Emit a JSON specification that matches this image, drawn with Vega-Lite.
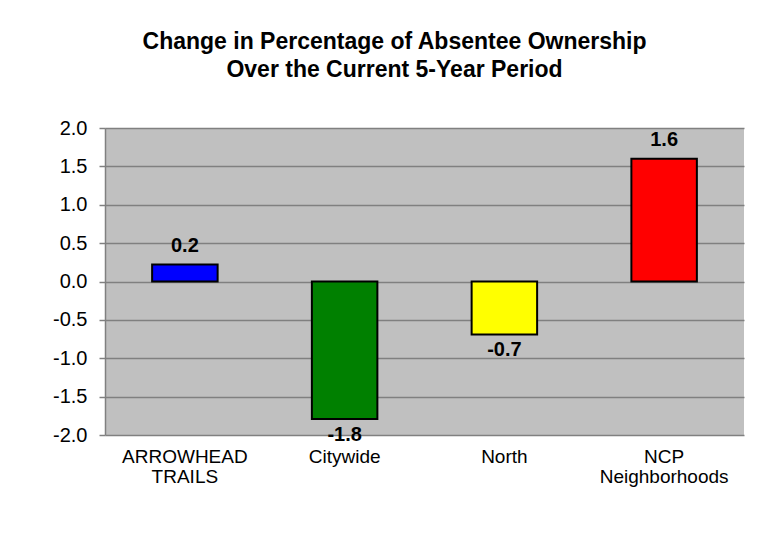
{
  "$schema": "https://vega.github.io/schema/vega-lite/v6.json",
  "autosize": "none",
  "width": 639,
  "height": 307,
  "padding": {"left": 105, "top": 128, "right": 28, "bottom": 124},
  "background": "white",
  "title": {
    "text": ["Change in Percentage of Absentee Ownership", "Over the Current 5-Year Period"],
    "font": "Liberation Sans",
    "fontSize": 23,
    "fontWeight": "bold",
    "color": "black",
    "anchor": "middle",
    "dx": -30,
    "offset": 36,
    "lineHeight": 28
  },
  "config": {
    "view": {"fill": "#C0C0C0", "stroke": null},
    "font": "Liberation Sans",
    "locale": {"number": {"decimal": ".", "thousands": ",", "grouping": [3], "currency": ["$", ""], "minus": "-"}}
  },
  "data": {
    "values": [
      {"area": "ARROWHEAD TRAILS", "change": 0.22},
      {"area": "Citywide", "change": -1.79},
      {"area": "North", "change": -0.69},
      {"area": "NCP Neighborhoods", "change": 1.6}
    ]
  },
  "encoding": {
    "x": {
      "field": "area",
      "type": "nominal",
      "sort": null,
      "scale": {"paddingInner": 0.59, "paddingOuter": 0.295},
      "axis": {
        "title": null,
        "labelAngle": 0,
        "labelFontSize": 19,
        "labelColor": "black",
        "labelPadding": 12,
        "labelLineHeight": 20,
        "labelExpr": "split(datum.label, ' ')",
        "ticks": false,
        "domain": false,
        "labelBaseline": "top"
      }
    },
    "y": {
      "field": "change",
      "type": "quantitative",
      "scale": {"domain": [-2, 2], "nice": false},
      "axis": {
        "title": null,
        "values": [-2, -1.5, -1, -0.5, 0, 0.5, 1, 1.5, 2],
        "format": ".1f",
        "labelFontSize": 20,
        "labelColor": "black",
        "labelPadding": 12,
        "tickSize": 6,
        "tickColor": "#808080",
        "tickWidth": 1.5,
        "domainColor": "#808080",
        "domainWidth": 1.5,
        "gridColor": "#808080",
        "gridWidth": 1.5,
        "gridOpacity": 1
      }
    }
  },
  "layer": [
    {
      "mark": {"type": "bar", "stroke": "black", "strokeWidth": 2},
      "encoding": {
        "color": {
          "field": "area",
          "type": "nominal",
          "sort": null,
          "scale": {
            "domain": ["ARROWHEAD TRAILS", "Citywide", "North", "NCP Neighborhoods"],
            "range": ["#0000FF", "#008000", "#FFFF00", "#FF0000"]
          },
          "legend": null
        }
      }
    },
    {
      "transform": [{"filter": "datum.change >= 0"}],
      "mark": {"type": "text", "fontSize": 20, "fontWeight": "bold", "baseline": "bottom", "dy": -9, "color": "black"},
      "encoding": {"text": {"field": "change", "type": "quantitative", "format": ".1f"}}
    },
    {
      "transform": [{"filter": "datum.change < 0"}],
      "mark": {"type": "text", "fontSize": 20, "fontWeight": "bold", "baseline": "top", "dy": 6, "color": "black"},
      "encoding": {"text": {"field": "change", "type": "quantitative", "format": ".1f"}}
    }
  ]
}
